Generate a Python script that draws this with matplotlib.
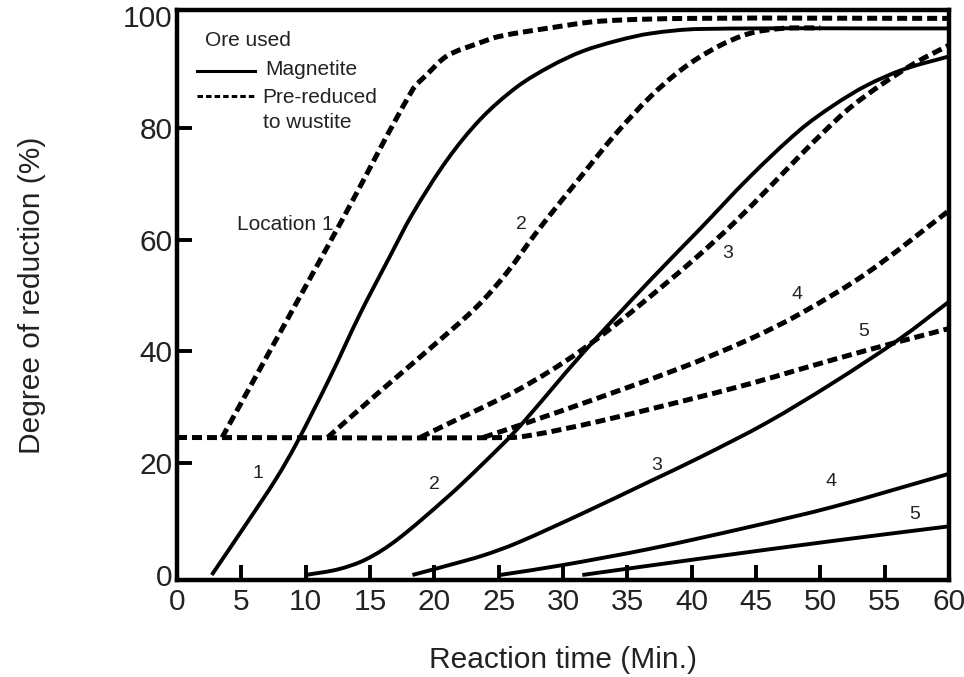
import matplotlib
matplotlib.use("Agg")
import matplotlib.pyplot as plt
import numpy as np
from matplotlib.path import Path
from matplotlib.patches import PathPatch

plt.rcParams['font.family'] = ['Liberation Sans', 'DejaVu Sans']

# --- Magnetite (solid) curves, locations 1-5 ---
mag1_t = [2.7, 5.4, 7.7, 9.3, 11.9, 14.2, 16.5, 18.3, 21.0, 23.6, 26.4, 29.0, 31.5, 34.2, 36.8, 40.6, 60.0]
mag1_r = [0.0, 9.2, 17.2, 23.6, 35.4, 46.6, 56.8, 64.6, 74.3, 81.6, 87.3, 91.0, 93.7, 95.6, 96.9, 97.7, 97.8]

mag2_t = [10.0, 12.5, 14.7, 17.1, 21.0, 23.5, 26.4, 31.5, 36.8, 40.6, 44.5, 48.4, 51.0, 53.6, 56.5, 60.0]
mag2_r = [0.0, 1.0, 2.8, 6.3, 13.9, 19.3, 26.0, 39.6, 52.8, 61.8, 71.2, 79.6, 84.0, 87.6, 90.5, 92.8]

mag3_t = [18.3, 21.2, 23.8, 26.4, 31.5, 36.8, 40.6, 45.8, 51.0, 56.2, 60.0]
mag3_r = [0.0, 1.8, 3.5, 5.7, 11.0, 16.8, 21.0, 27.2, 34.4, 42.3, 48.9]

mag4_t = [25.1, 29.8, 36.8, 44.5, 51.0, 60.0]
mag4_r = [0.0, 1.7, 4.7, 8.6, 12.2, 18.1]

mag5_t = [31.5, 40.6, 51.0, 60.0]
mag5_r = [0.0, 2.9, 6.1, 8.7]

# --- Pre-reduced to wustite (dashed) curves, locations 1-5 ---
wus1_t = [3.5, 9.0, 12.9, 18.3, 19.4, 21.0, 23.5, 25.1, 29.0, 32.9, 40.0, 60.0]
wus1_r = [24.6, 47.5, 63.8, 86.8, 89.5, 92.9, 95.2, 96.4, 97.9, 99.1, 99.6, 99.6]

wus2_t = [11.7, 15.8, 19.7, 23.3, 25.6, 28.0, 31.5, 34.2, 36.8, 39.3, 42.0, 44.5, 47.0, 50.0]
wus2_r = [24.6, 32.9, 40.6, 48.0, 54.0, 61.5, 71.6, 79.2, 85.6, 90.6, 94.5, 96.9, 97.8, 97.9]

wus3_t = [18.9, 21.2, 23.5, 26.4, 29.0, 31.3, 34.2, 37.8, 40.6, 43.2, 45.8, 48.4, 50.5, 52.3, 54.9, 57.5, 60.0]
wus3_r = [24.6, 27.2, 29.7, 33.0, 36.5, 40.0, 45.0, 51.8, 57.3, 62.8, 68.8, 75.0, 79.8, 83.6, 88.0, 91.8, 94.8]

wus4_t = [23.8, 29.8, 39.1, 44.5, 48.4, 53.6, 60.0]
wus4_r = [24.6, 29.3, 37.0, 42.2, 46.7, 54.0, 65.2]

wus5_t = [0.0, 26.0, 28.0, 30.0, 33.0, 39.1, 44.5, 48.4, 53.6, 60.0]
wus5_r = [24.6, 24.6, 25.2, 26.1, 27.6, 31.0, 34.2, 36.8, 40.2, 44.1]

# curve labels: (text, t, r)
curve_labels = [
    ("1", 6.3, 18.1), ("2", 20.0, 16.2), ("3", 37.3, 19.6), ("4", 50.8, 16.7), ("5", 57.3, 10.9),
    ("2", 26.8, 62.8), ("3", 42.8, 57.5), ("4", 48.2, 50.2), ("5", 53.4, 43.6),
]
location_label = ("Location 1", 8.4, 62.8)

x_ticks = [0, 5, 10, 15, 20, 25, 30, 35, 40, 45, 50, 55, 60]
y_ticks = [0, 20, 40, 60, 80, 100]

fig = plt.figure(figsize=(9.64, 6.77), dpi=100)
ax = fig.add_axes([177 / 964, 1 - 580 / 677, 772 / 964, 570 / 677])
ax.set_xlim(0, 60)
ax.set_ylim(-0.9, 101.1)


def smooth_curve(ax, t, r):
    """Cubic Bezier path passing through every (t, r) point, shaped in display space."""
    pts = ax.transData.transform(np.column_stack([t, r]))
    n = len(pts)
    tang = np.zeros_like(pts)
    for i in range(n):
        if i == 0:
            d = pts[1] - pts[0]
        elif i == n - 1:
            d = pts[-1] - pts[-2]
        else:
            d = pts[i + 1] - pts[i - 1]
        tang[i] = d / np.linalg.norm(d)
    verts = [pts[0]]
    codes = [Path.MOVETO]
    for i in range(n - 1):
        seg = np.linalg.norm(pts[i + 1] - pts[i]) / 3.0
        verts += [pts[i] + tang[i] * seg, pts[i + 1] - tang[i + 1] * seg, pts[i + 1]]
        codes += [Path.CURVE4] * 3
    verts = ax.transData.inverted().transform(np.array(verts))
    return Path(verts, codes)


solid_series = [(mag1_t, mag1_r), (mag2_t, mag2_r), (mag3_t, mag3_r), (mag4_t, mag4_r), (mag5_t, mag5_r)]
dashed_series = [(wus5_t, wus5_r), (wus4_t, wus4_r), (wus3_t, wus3_r), (wus2_t, wus2_r), (wus1_t, wus1_r)]

for t, r in solid_series:
    p = PathPatch(smooth_curve(ax, t, r), fill=False, edgecolor="black", lw=2.8,
                  capstyle="butt", joinstyle="round")
    ax.add_patch(p)
for t, r in dashed_series:
    p = PathPatch(smooth_curve(ax, t, r), fill=False, edgecolor="black", lw=3.6,
                  linestyle=(0, (2.0, 1.0)), capstyle="butt", joinstyle="round")
    ax.add_patch(p)

for txt, t, r in curve_labels:
    ax.text(t, r, txt, fontsize=14, ha="center", va="center", color="#222222")
ax.text(location_label[1], location_label[2], location_label[0], fontsize=15,
        ha="center", va="center", color="#222222")

# legend block
ax.text(0.036, 0.947, "Ore used", transform=ax.transAxes, fontsize=15, va="center", color="#222222")
ax.plot([0.026, 0.101], [0.893, 0.893], transform=ax.transAxes, color="black", lw=2.2)
ax.plot([0.026, 0.101], [0.849, 0.849], transform=ax.transAxes, color="black", lw=2.2,
        linestyle=(0, (1.8, 1.0)), dash_capstyle="butt")
ax.text(0.114, 0.895, "Magnetite", transform=ax.transAxes, fontsize=15, va="center", color="#222222")
ax.text(0.111, 0.846, "Pre-reduced", transform=ax.transAxes, fontsize=15, va="center", color="#222222")
ax.text(0.111, 0.802, "to wustite", transform=ax.transAxes, fontsize=15, va="center", color="#222222")

ax.set_xticks(x_ticks)
ax.set_yticks(y_ticks)
ax.tick_params(axis="both", direction="in", length=11, width=2.8, labelsize=21.5,
               colors="black", labelcolor="#222222")
ax.tick_params(axis="x", pad=6)
ax.tick_params(axis="y", pad=3)

xt = ax.xaxis.get_major_ticks()
xt[0].tick1line.set_visible(False)
xt[-1].tick1line.set_visible(False)
yt = ax.yaxis.get_major_ticks()
yt[0].tick1line.set_visible(False)
yt[-1].tick1line.set_visible(False)

for s in ax.spines.values():
    s.set_linewidth(3.2)
    s.set_color("black")

ax.set_xlabel("Reaction time (Min.)", fontsize=21.5, color="#222222")
ax.set_ylabel("Degree of reduction (%)", fontsize=21.5, color="#222222")
ax.xaxis.set_label_coords(0.5, -0.116)
ax.yaxis.set_label_coords(-0.170, 0.5)

fig.savefig("out.png", dpi=100)
